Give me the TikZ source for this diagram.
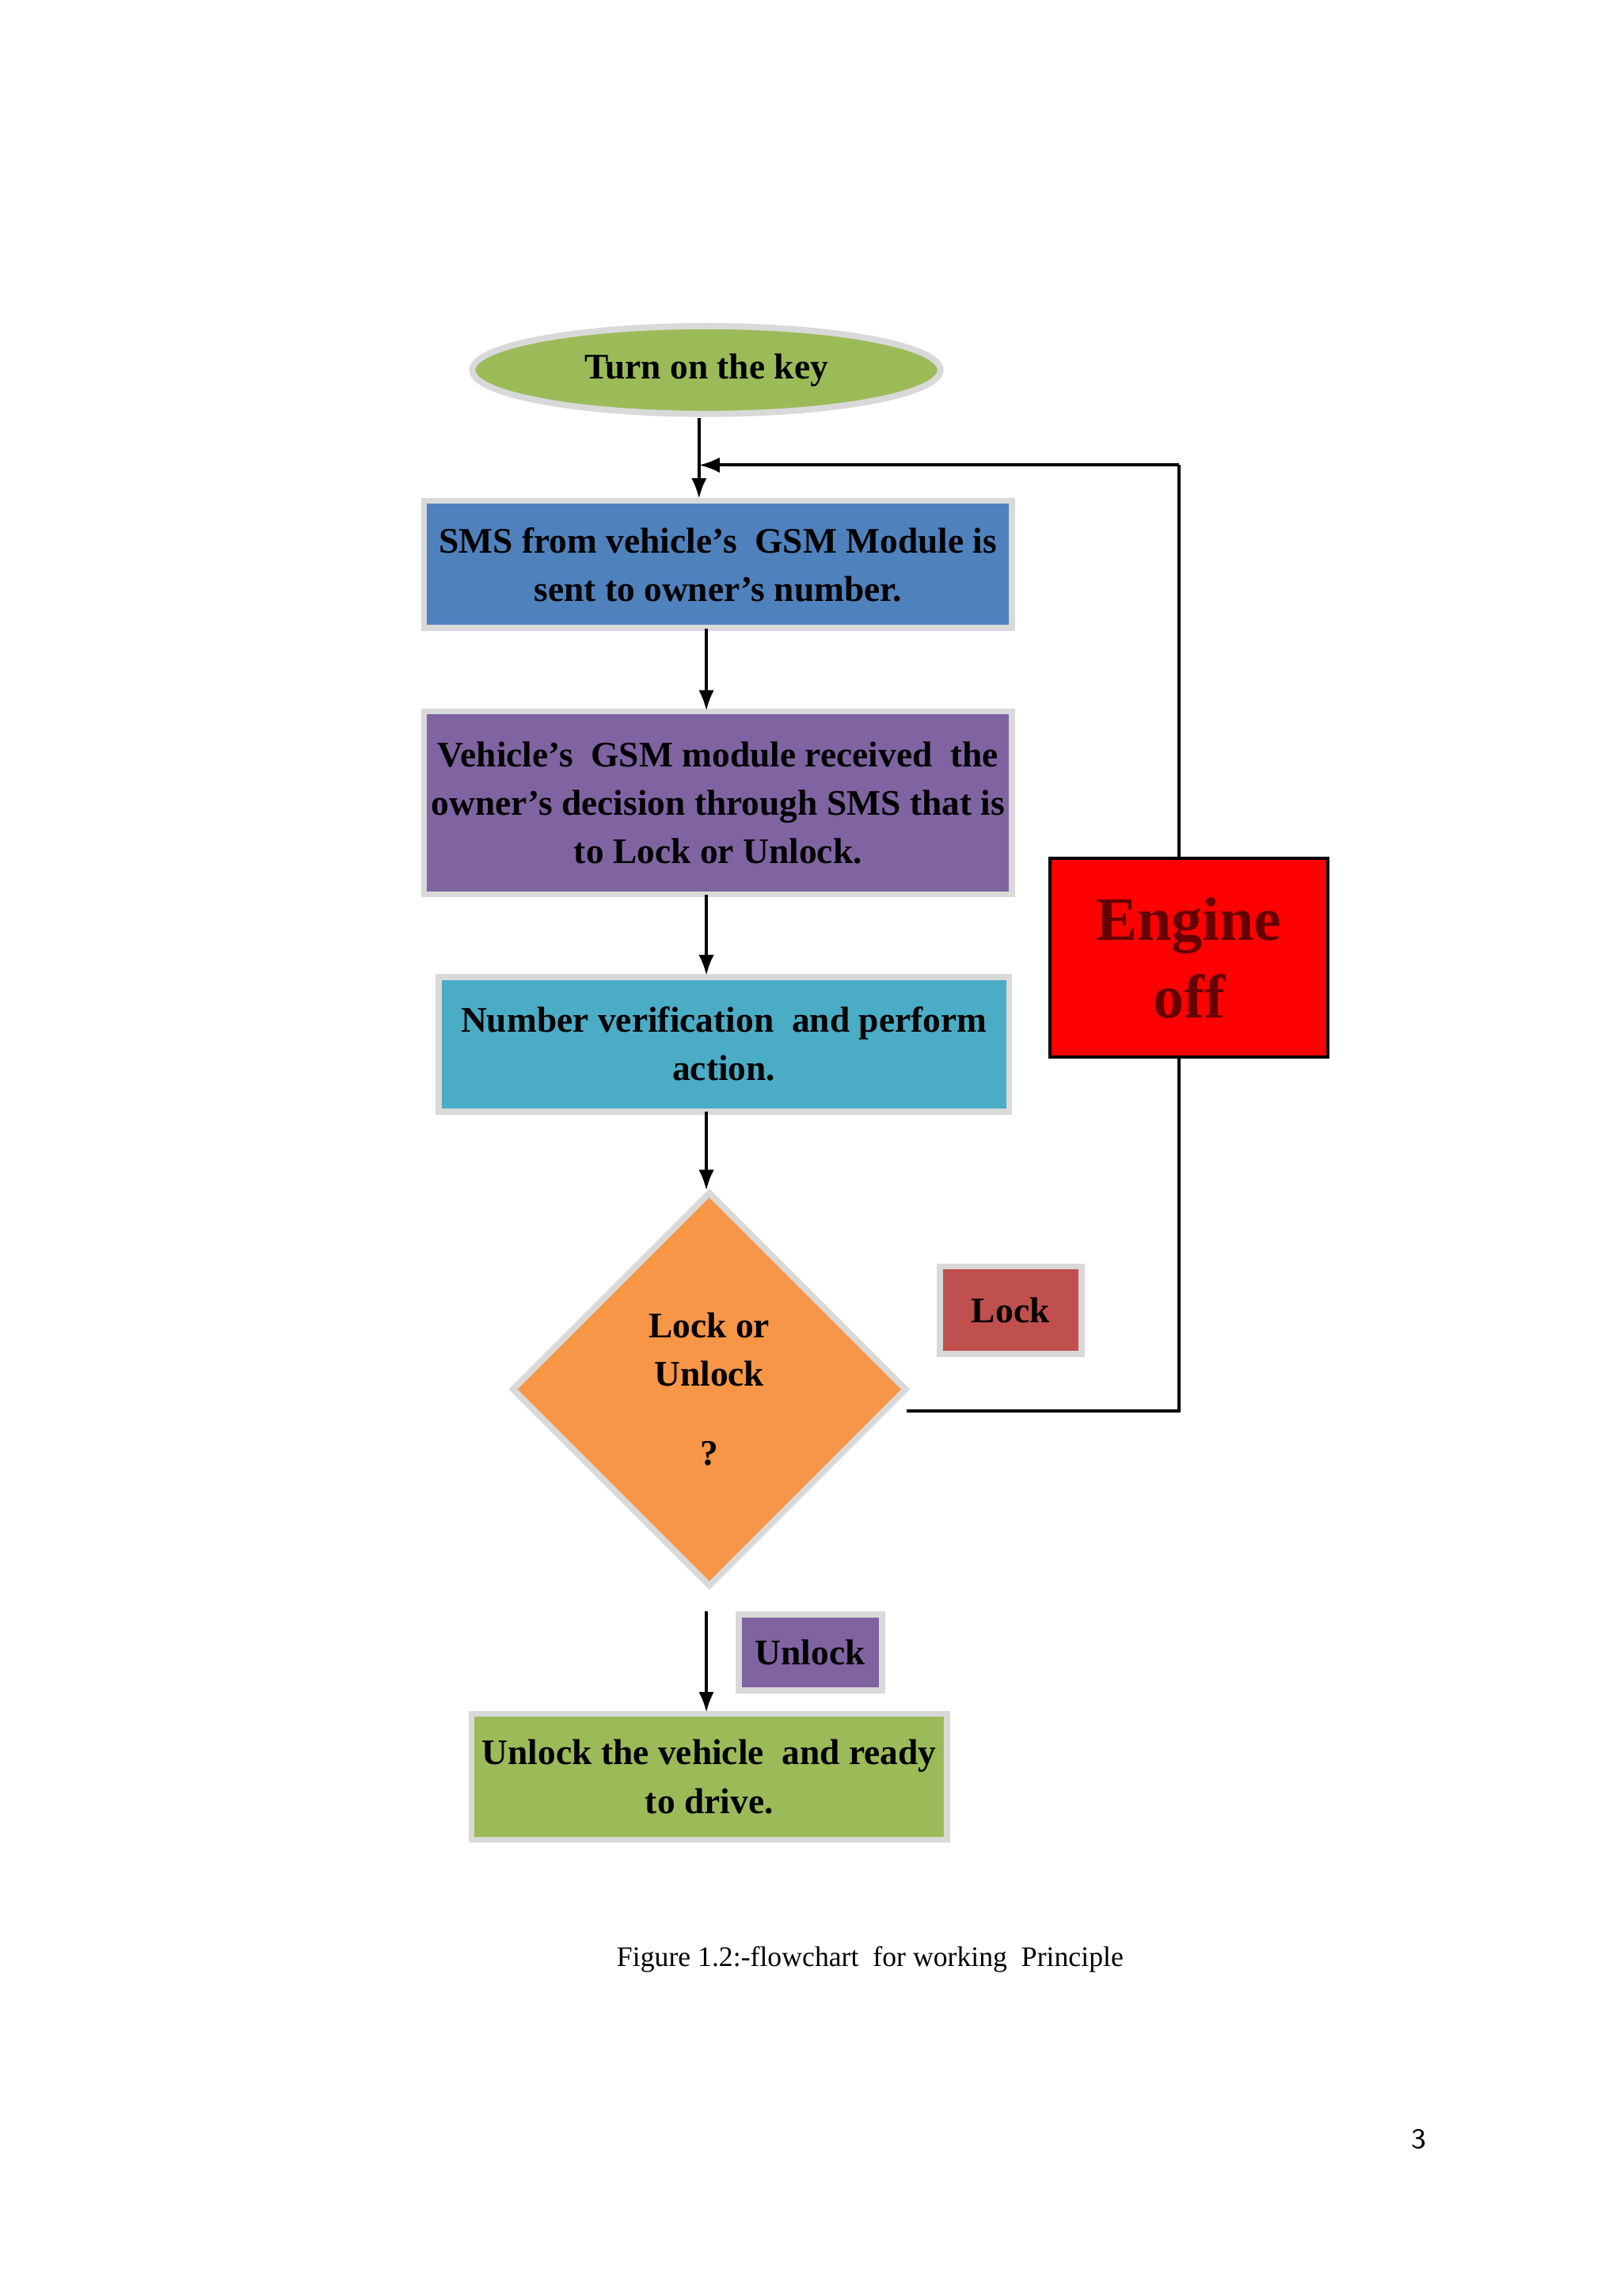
\documentclass[tikz,border=0pt]{standalone}
\usepackage{fontspec}
\setmainfont{Liberation Serif}
\usetikzlibrary{shapes.geometric,arrows.meta}
\definecolor{cgreen}{HTML}{9BBB59}
\definecolor{cblue}{HTML}{4F81BD}
\definecolor{cpurple}{HTML}{8064A2}
\definecolor{ccyan}{HTML}{4BACC6}
\definecolor{corange}{HTML}{F79646}
\definecolor{clock}{HTML}{C0504D}
\tikzset{
 bx/.style={draw=black!15,line width=1.2pt,align=center,font=\fontsize{7}{9.4}\selectfont\bfseries,inner sep=0pt},
 arr/.style={-{Latex[length=4pt,width=3pt]},line width=0.6pt},
}
\begin{document}
\begin{tikzpicture}[x=0.01cm,y=-0.01cm]
\useasboundingbox (0,0) rectangle (1110,1568);
\node[ellipse,bx,fill=cgreen,minimum width=3.2cm,minimum height=0.6cm] (key) at (483,253) {Turn on the key};
\node[bx,fill=cblue,minimum width=4.02cm,minimum height=0.87cm] (sms) at (491,386) {SMS from vehicle's\ \ GSM Module is\\sent to owner's number.};
\node[bx,fill=cpurple,minimum width=4.02cm,minimum height=1.25cm] (rec) at (491,549) {Vehicle's\ \ GSM module received\ \ the\\owner's decision through SMS that is\\to Lock or Unlock.};
\node[bx,fill=ccyan,minimum width=3.9cm,minimum height=0.92cm] (num) at (495,714) {Number verification\ \ and perform\\action.};
\node[diamond,bx,fill=corange,minimum width=2.7cm,minimum height=2.7cm] (dec) at (485,950) {Lock or\\Unlock\\[6pt]?};
\node[bx,fill=clock,minimum width=0.97cm,minimum height=0.6cm] (lock) at (691,896) {Lock};
\node[bx,fill=cpurple,minimum width=0.98cm,minimum height=0.52cm] (unl) at (554,1130) {Unlock};
\node[bx,fill=cgreen,minimum width=3.25cm,minimum height=0.86cm] (fin) at (485,1215) {Unlock the vehicle\ \ and ready\\to drive.};
\coordinate (j) at (478,318);
\coordinate (c1) at (806,965);
\coordinate (c2) at (806,318);
\draw[line width=0.6pt] (620,965) -- (c1) -- (c2);
\draw[arr] (c2) -- (j);
\node[draw=black,line width=0.6pt,fill=red,minimum width=1.9cm,minimum height=1.36cm,align=center,font=\fontsize{12}{15}\selectfont\bfseries,text=black!60!red] (eng) at (813,655) {Engine\\off};
\draw[arr] (478,286) -- (478,341);
\draw[arr] (483,430) -- (483,486);
\draw[arr] (483,612) -- (483,667);
\draw[arr] (483,760) -- (483,814);
\coordinate (u) at (483,1102);
\draw[arr] (u) -- (483,1171);
\node[font=\fontsize{5.5}{7}\selectfont] (cap) at (595,1340) {Figure 1.2:-flowchart\ \ for working\ \ Principle};
\node[font=\fontsize{5.5}{7}\selectfont\sffamily] (pg) at (970,1463) {3};
\end{tikzpicture}
\end{document}
